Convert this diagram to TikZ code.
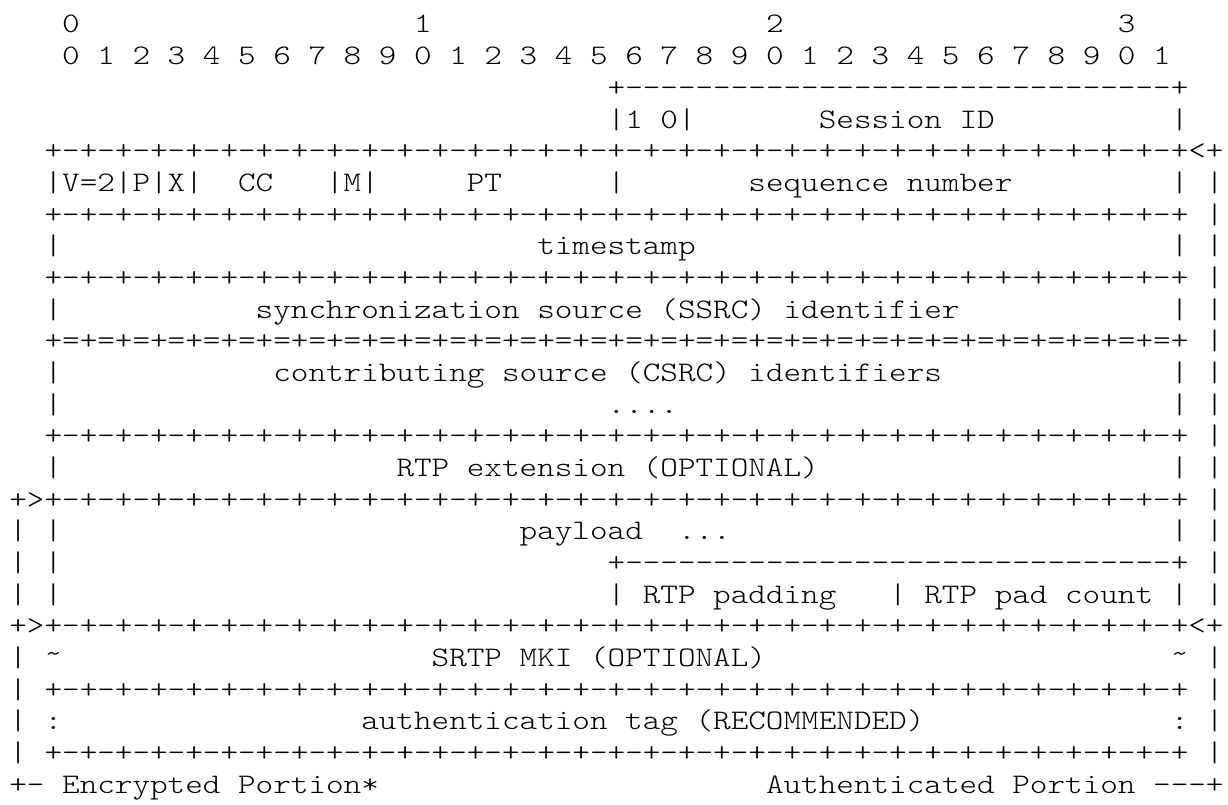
\documentclass[tikz,border=0pt]{standalone}
\font\asciifont="[lmmonolt10-regular.otf]:extend=1.183" at 8.5pt
\newdimen\cw
\setbox0\hbox{\asciifont 0}\cw=\wd0
\newcommand\asciitext{\asciifont\spaceskip=\cw\xspaceskip=\cw\relax}
\newcommand\sk[1]{\hspace*{#1\cw}}
\newcommand\tld{\raisebox{1.1pt}{\char126\relax}}
\newcommand\dotrun[1]{\foreach\k in {1,...,#1}{.}}
\newcommand\fieldline[1]{\foreach\k in {1,...,32}{+#1}+}
\newcommand\dashrun{+\foreach\k in {1,...,31}{-}+}
\tikzset{asciirow/.style={anchor=base west, inner sep=0pt, font=\asciitext}}

\begin{document}
\begin{tikzpicture}[x=0.3pt, y=0.3pt]
		\useasboundingbox (0,0) rectangle (1228,-805);
		\foreach \txt [count=\i] in {
			{\sk{3}0\sk{19}1\sk{19}2\sk{19}3},
			{\sk{3}0 1 2 3 4 5 6 7 8 9 0 1 2 3 4 5 6 7 8 9 0 1 2 3 4 5 6 7 8 9 0 1},
			{\sk{34}\dashrun},
			{\sk{34}|1 0|\sk{7}Session ID\sk{10}|},
			{\sk{2}\fieldline{-}<+},
			{\sk{2}|V=2|P|X|\sk{2}CC\sk{3}|M|\sk{5}PT\sk{6}|\sk{7}sequence number\sk{9}|\sk{1}|},
			{\sk{2}\fieldline{-}\sk{1}|},
			{\sk{2}|\sk{27}timestamp\sk{27}|\sk{1}|},
			{\sk{2}\fieldline{-}\sk{1}|},
			{\sk{2}|\sk{11}synchronization source (SSRC) identifier\sk{12}|\sk{1}|},
			{\sk{2}\fieldline{=}\sk{1}|},
			{\sk{2}|\sk{12}contributing source (CSRC) identifiers\sk{13}|\sk{1}|},
			{\sk{2}|\sk{31}\dotrun{4}\sk{28}|\sk{1}|},
			{\sk{2}\fieldline{-}\sk{1}|},
			{\sk{2}|\sk{19}RTP extension (OPTIONAL)\sk{20}|\sk{1}|},
			{+>\fieldline{-}\sk{1}|},
			{|\sk{1}|\sk{26}payload\sk{2}\dotrun{3}\sk{25}|\sk{1}|},
			{|\sk{1}|\sk{31}\dashrun\sk{1}|},
			{|\sk{1}|\sk{31}|\sk{1}RTP padding\sk{3}|\sk{1}RTP pad count\sk{1}|\sk{1}|},
			{+>\fieldline{-}<+},
			{|\sk{1}\tld\sk{21}SRTP MKI (OPTIONAL)\sk{23}\tld\sk{1}|},
			{|\sk{1}\fieldline{-}\sk{1}|},
			{|\sk{1}:\sk{17}authentication tag (RECOMMENDED)\sk{14}:\sk{1}|},
			{|\sk{1}\fieldline{-}\sk{1}|},
			{+-\sk{1}Encrypted Portion*\sk{22}Authenticated Portion ---+}}{
			\node[asciirow] (row\i) at (8.7,{-33-(\i-1)*31.67}) {\txt};
		}
	\end{tikzpicture}
\end{document}
